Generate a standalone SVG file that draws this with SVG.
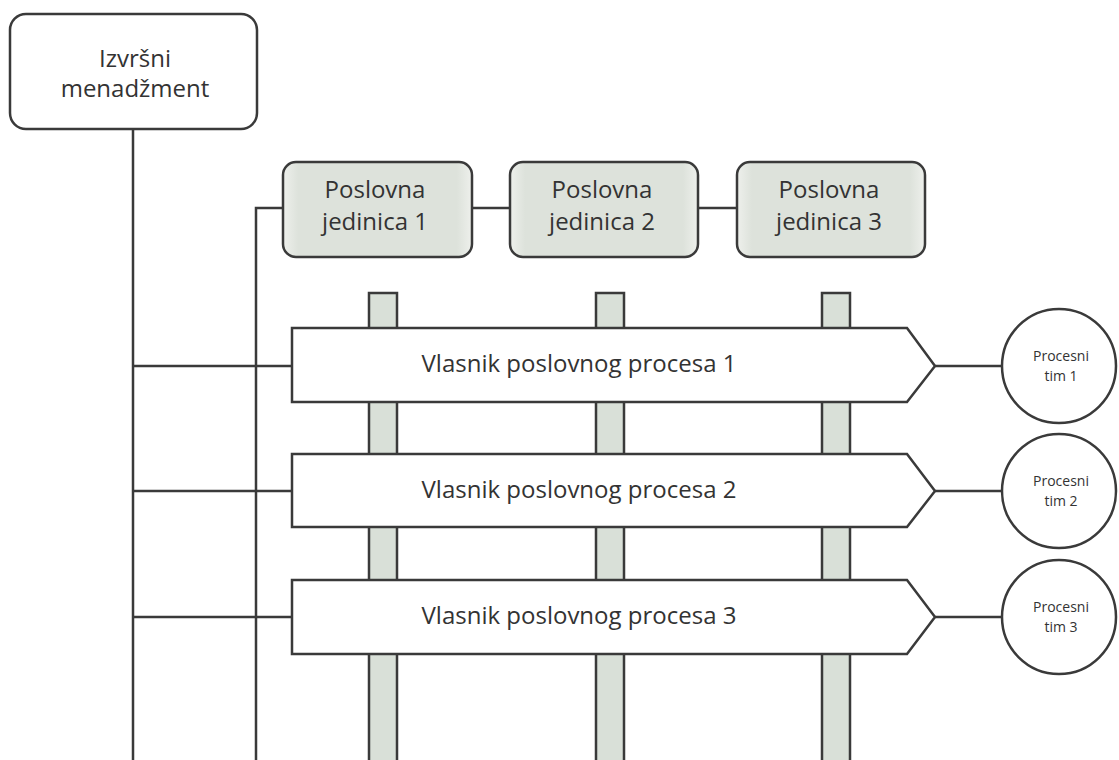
<svg xmlns="http://www.w3.org/2000/svg" width="1119" height="760" viewBox="0 0 1119 760">
<defs>
<linearGradient id="boxg" x1="0" y1="0" x2="1" y2="0">
<stop offset="0" stop-color="#eef0ec"/>
<stop offset="0.08" stop-color="#dde2db"/>
<stop offset="0.92" stop-color="#dde2db"/>
<stop offset="1" stop-color="#eef0ec"/>
</linearGradient>
<style>
.ln{stroke:#3a3a3a;stroke-width:2.5;fill:none}
.bx{fill:#fff;stroke:#3a3a3a;stroke-width:2.5}
.pb{fill:url(#boxg);stroke:#3a3a3a;stroke-width:2.5}
.bar{fill:#d9e0d8;stroke:#3a3a3a;stroke-width:2.5}
.t{font-family:"Open Sans","Noto Sans","Liberation Sans",sans-serif;fill:#333;text-anchor:middle}
.big{font-size:24px}
.sm{font-size:14px}
</style>
</defs>
<rect width="1119" height="760" fill="#fff"/>
<g id="connectors">
<path class="ln" d="M133 130 V760"/>
<path class="ln" d="M256 760 V208 H283"/>
<path class="ln" d="M472 208 H510"/>
<path class="ln" d="M698 208 H737"/>
<path class="ln" d="M133 366 H292"/>
<path class="ln" d="M133 491 H292"/>
<path class="ln" d="M133 617 H292"/>
<path class="ln" d="M935 366 H1001"/>
<path class="ln" d="M935 491 H1001"/>
<path class="ln" d="M935 617 H1001"/>
</g>
<g id="bars">
<rect class="bar" x="369" y="293" width="28" height="480"/>
<rect class="bar" x="596" y="293" width="28" height="480"/>
<rect class="bar" x="822" y="293" width="28" height="480"/>
</g>
<g id="izvrsni">
<rect class="bx" x="10" y="14" width="247" height="115" rx="16"/>
<text class="t big" x="135" y="67">Izvršni</text>
<text class="t big" x="135" y="97">menadžment</text>
</g>
<g id="pj1">
<rect class="pb" x="283" y="162" width="189" height="95" rx="13"/>
<text class="t big" x="375" y="198">Poslovna</text>
<text class="t big" x="375" y="230">jedinica 1</text>
</g>
<g id="pj2">
<rect class="pb" x="510" y="162" width="188" height="95" rx="13"/>
<text class="t big" x="602" y="198">Poslovna</text>
<text class="t big" x="602" y="230">jedinica 2</text>
</g>
<g id="pj3">
<rect class="pb" x="737" y="162" width="188" height="95" rx="13"/>
<text class="t big" x="829" y="198">Poslovna</text>
<text class="t big" x="829" y="230">jedinica 3</text>
</g>
<g id="vpp1">
<path class="bx" d="M292 328 H907 L935 366 L907 402 H292 Z"/>
<text class="t big" x="579" y="372">Vlasnik poslovnog procesa 1</text>
</g>
<g id="vpp2">
<path class="bx" d="M292 454 H907 L935 491 L907 527 H292 Z"/>
<text class="t big" x="579" y="498">Vlasnik poslovnog procesa 2</text>
</g>
<g id="vpp3">
<path class="bx" d="M292 580 H907 L935 617 L907 654 H292 Z"/>
<text class="t big" x="579" y="624">Vlasnik poslovnog procesa 3</text>
</g>
<g id="pt1">
<circle class="bx" cx="1059" cy="366" r="57"/>
<text class="t sm" x="1061" y="361">Procesni</text>
<text class="t sm" x="1061" y="381">tim 1</text>
</g>
<g id="pt2">
<circle class="bx" cx="1059" cy="491" r="57"/>
<text class="t sm" x="1061" y="486">Procesni</text>
<text class="t sm" x="1061" y="506">tim 2</text>
</g>
<g id="pt3">
<circle class="bx" cx="1059" cy="617" r="57"/>
<text class="t sm" x="1061" y="612">Procesni</text>
<text class="t sm" x="1061" y="632">tim 3</text>
</g>
</svg>
